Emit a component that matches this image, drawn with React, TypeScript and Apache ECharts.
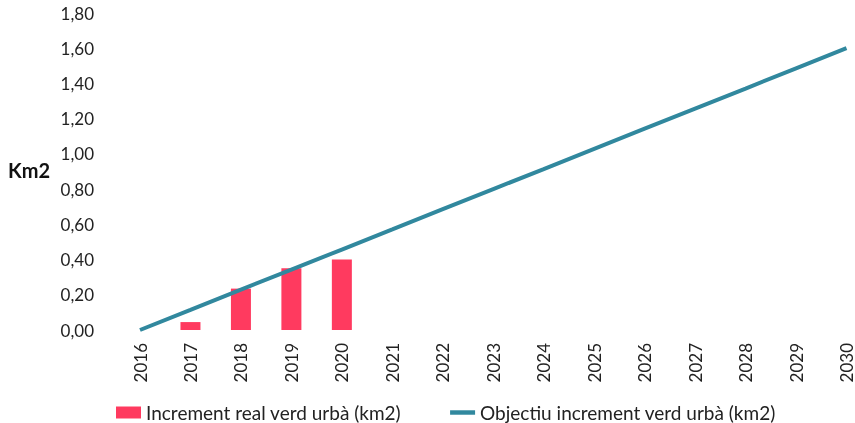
import React, { useEffect, useRef } from "react";
import * as echarts from "echarts";

const years = ["2016","2017","2018","2019","2020","2021","2022","2023","2024","2025","2026","2027","2028","2029","2030"];
const realIncrement: (number | null)[] = [null, 0.045, 0.235, 0.35, 0.40, null, null, null, null, null, null, null, null, null, null];
const targetIncrement = [0, 0.114, 0.229, 0.343, 0.457, 0.571, 0.686, 0.8, 0.914, 1.029, 1.143, 1.257, 1.371, 1.486, 1.6];
const yTicks = { min: 0, max: 1.8, interval: 0.2 };
const barName = "Increment real verd urbà (km2)";
const lineName = "Objectiu increment verd urbà (km2)";

const FONT = "Lato";

export default function App() {
  const ref = useRef<HTMLDivElement>(null);
  useEffect(() => {
    if (!ref.current) return;
    const chart = echarts.init(ref.current, undefined, { renderer: "svg", width: 855, height: 423 });
    chart.setOption({
      animation: false,
      textStyle: { fontFamily: FONT },
      grid: { left: 140, width: 713, top: 13, height: 317, containLabel: false },
      legend: {
        left: 111,
        top: 398,
        itemGap: 49,
        itemWidth: 25,
        itemHeight: 12,
        textStyle: { fontFamily: FONT, fontSize: 19, color: "#222" },
        data: [
          { name: barName, icon: "rect" },
          { name: lineName, icon: "path://M0,3.5 L28,3.5 L28,8.5 L0,8.5 Z" },
        ],
      },
      xAxis: {
        type: "category",
        data: years,
        boundaryGap: false,
        axisLine: { show: false },
        axisTick: { show: false },
        axisLabel: { rotate: 90, margin: 13, fontSize: 17, color: "#222", fontFamily: FONT },
        splitLine: { show: false },
      },
      yAxis: {
        type: "value",
        min: yTicks.min,
        max: yTicks.max,
        interval: yTicks.interval,
        axisLine: { show: false },
        axisTick: { show: false },
        splitLine: { show: false },
        axisLabel: {
          margin: 46,
          fontSize: 17,
          color: "#222",
          fontFamily: FONT,
          formatter: (v: number) => v.toFixed(2).replace(".", ","),
        },
      },
      graphic: [
        {
          type: "text",
          left: 8,
          top: 160,
          style: { text: "Km2", font: `bold 20px ${FONT}`, fill: "#111" },
        },
      ],
      series: [
        {
          name: barName,
          type: "bar",
          data: realIncrement,
          barWidth: 20,
          itemStyle: { color: "#FF3A5F" },
        },
        {
          name: lineName,
          type: "line",
          data: targetIncrement,
          showSymbol: false,
          symbol: "none",
          lineStyle: { color: "#31889E", width: 4 },
          itemStyle: { color: "#31889E" },
        },
      ],
    });
    return () => chart.dispose();
  }, []);
  return <div ref={ref} style={{ position: "fixed", left: 0, top: 0, width: 855, height: 423 }} />;
}
